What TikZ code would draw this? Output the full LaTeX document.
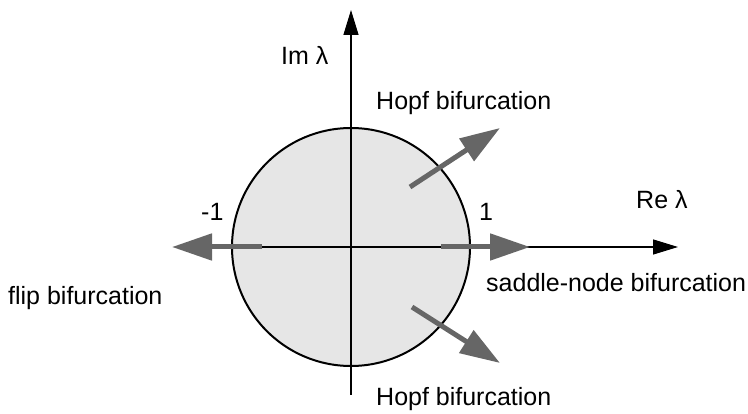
\documentclass[tikz,border=0pt]{standalone}
\usepackage{fontspec}
\setmainfont{Liberation Sans}
\usetikzlibrary{arrows.meta}
\definecolor{diskfill}{HTML}{E6E6E6}
\definecolor{arrgray}{HTML}{666666}
\begin{document}
\begin{tikzpicture}[x=1pt,y=-1pt,
  lbl/.style={inner sep=0pt, font=\fontsize{25}{29}\selectfont},
  axis/.style={line width=1.3pt, -{Triangle[length=25pt,width=15pt]}},
  bif/.style={line width=5pt, arrgray, -{Triangle[length=40pt,width=26pt]}}]
\useasboundingbox (0,0) rectangle (748,414);
% coordinates
\coordinate (O) at (351,247);
\coordinate (xs) at (232,247);
\coordinate (xe) at (678,247);
\coordinate (ys) at (351,395);
\coordinate (ye) at (351,10);
% unit disk
\node[circle, draw=black, line width=2pt, fill=diskfill, minimum size=238pt, inner sep=0pt] (disk) at (O) {};
% axes
\draw[axis] (xs) -- (xe);
\draw[axis] (ys) -- (ye);
% bifurcation arrows
\coordinate (fs) at (262,247); \coordinate (fe) at (172,247);
\coordinate (ss) at (441,247); \coordinate (se) at (530,247);
\coordinate (hus) at (410,187); \coordinate (hue) at (500,128);
\coordinate (hls) at (412,307); \coordinate (hle) at (500,363);
\draw[bif] (fs) -- (fe);
\draw[bif] (ss) -- (se);
\draw[bif] (hus) -- (hue);
\draw[bif] (hls) -- (hle);
% labels
\node[lbl, anchor=west] (im) at (281,55) {Im λ};
\node[lbl, anchor=west] (re) at (636,200) {Re λ};
\node[lbl, anchor=west] (m1) at (201,212) {-1};
\node[lbl, anchor=west] (p1) at (479,212) {1};
\node[lbl, anchor=west] (hu) at (376,103) {Hopf bifurcation};
\node[lbl, anchor=west] (hl) at (376,399) {Hopf bifurcation};
\node[lbl, anchor=west] (sn) at (486,283) {saddle-node bifurcation};
\node[lbl, anchor=west] (fl) at (8,298) {flip bifurcation};
\end{tikzpicture}
\end{document}
